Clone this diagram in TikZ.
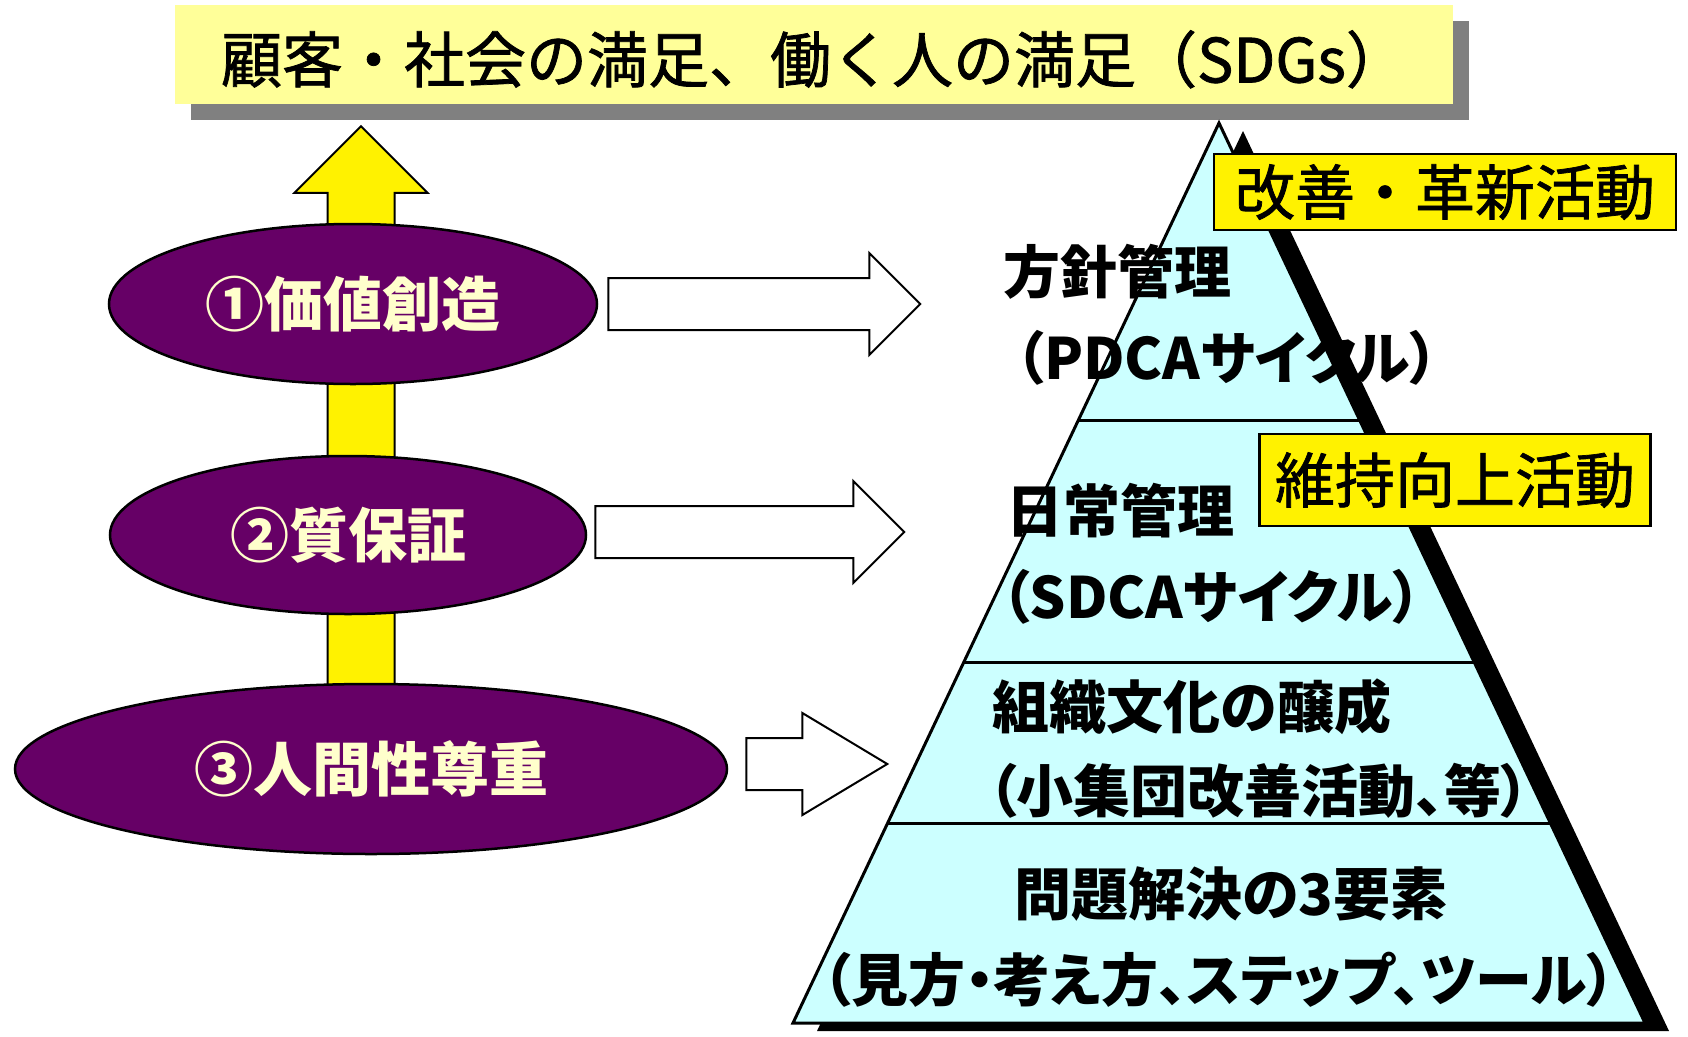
\documentclass[tikz,border=0pt]{standalone}
\usepackage{fontspec}
\setmainfont{Noto Sans CJK JP}
\newfontfamily\jpp[RawFeature=+palt]{Noto Sans CJK JP}
\newfontfamily\jpm[FakeBold=1.2]{Noto Sans CJK JP}
\usetikzlibrary{shapes.geometric,shapes.arrows,shadows,calc}

\definecolor{plum}{HTML}{660066}
\definecolor{cream}{HTML}{FFFFCC}
\definecolor{paleyellow}{HTML}{FFFF99}
\definecolor{palecyan}{HTML}{CCFFFF}

\tikzset{
    banner/.style={fill=paleyellow, inner sep=0pt, font=\jpm\fontsize{61}{64}\selectfont,
        text height=56pt, text depth=0pt,
        general shadow={fill=gray, shadow xshift=16pt, shadow yshift=-16pt}},
    uparrow/.style={single arrow, draw, line width=2pt, fill=yellow, inner sep=0pt,
        inner ysep=32.5pt, single arrow head extend=33pt},
    oval/.style={ellipse, draw, line width=2.5pt, fill=plum, text=cream, inner sep=0pt,
        font=\fontsize{59}{62}\selectfont\bfseries},
    hollow/.style={single arrow, draw, line width=2pt, fill=white, inner sep=0pt,
        inner ysep=25pt, single arrow head extend=25pt, anchor=tail},
    layer/.style={font=\jpp\fontsize{57}{60}\selectfont\bfseries},
    tag/.style={draw, line width=2.5pt, fill=yellow, inner sep=0pt,
        font=\jpm\fontsize{60}{62}\selectfont},
}

\begin{document}
\begin{tikzpicture}[x=1pt,y=-1pt]
        \useasboundingbox (0,0) rectangle (1688,1036);

        \node[banner, minimum width=1278pt, minimum height=99pt] (goal) at (814,54.5)
            {顧客・社会の満足、働く人の満足（SDGs）};

        \node[uparrow, rotate=90, minimum height=613pt] (up) at (361,449.5) {};

        \node[oval, minimum width=488pt, minimum height=160pt] (value) at (353,304) {①価値創造};
        \node[oval, minimum width=476pt, minimum height=158pt] (quality) at (348,535) {②質保証};
        \node[oval, minimum width=712pt, minimum height=170pt] (respect) at (371,769) {③人間性尊重};

        \node[hollow, minimum height=312pt] (arrowA) at ([xshift=9pt]value.east) {};
        \node[hollow, minimum height=309pt] (arrowB) at ([shift={(7,-3)}]quality.east) {};
        \node[hollow, minimum height=141pt, single arrow tip angle=62] (arrowC)
            at ([shift={(17,-5)}]respect.east) {};

        \coordinate (apex) at (1219,123);
        \coordinate (bl) at (793,1023);
        \coordinate (br) at (1645,1023);
        \fill ([shift={(24,8)}]apex) -- ([shift={(24,8)}]bl) -- ([shift={(24,8)}]br) -- cycle;
        \draw[line width=3pt, fill=palecyan] (apex) -- (bl) -- (br) -- cycle;
        \foreach \t in {0.33,0.599,0.778}
            {
                \draw[line width=3pt] ($(apex)!\t!(bl)$) -- ($(apex)!\t!(br)$);
            }

        \node[layer] (policy) at (1117,272) {方針管理};
        \node[layer] (policysub) at (1227,358) {（PDCAサイクル）};
        \node[layer] (daily) at (1120,511) {日常管理};
        \node[layer] (dailysub) at (1211,597) {（SDCAサイクル）};
        \node[layer] (culture) at (1192,707) {組織文化の醸成};
        \node[layer] (culturesub) at (1259,791) {（小集団改善活動、等）};
        \node[layer] (solve) at (1231,894) {問題解決の3要素};
        \node[layer] (solvesub) at (1219,980) {（見方・考え方、ステップ、ツール）};

        \node[tag, minimum width=462pt, minimum height=76pt] (kaizen) at (1445,192) {改善・革新活動};
        \node[tag, minimum width=391pt, minimum height=92pt] (maintain) at (1455,480) {維持向上活動};
    \end{tikzpicture}
\end{document}
